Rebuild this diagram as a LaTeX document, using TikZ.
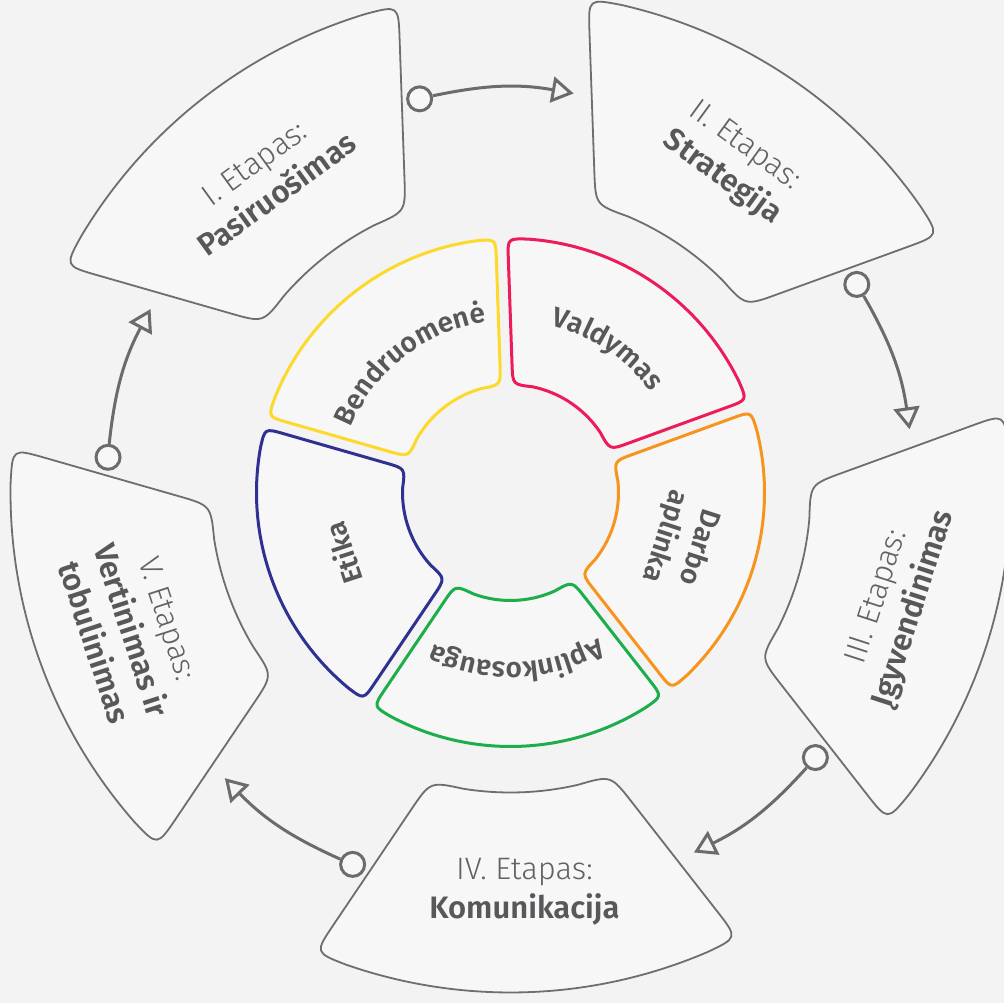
\documentclass[tikz,border=0pt]{standalone}
\usepackage{fontspec}
\setmainfont{Fira Sans}
\newfontfamily\lightfont{Fira Sans Light}
\newfontfamily\semifont{Fira Sans SemiBold}
\usetikzlibrary{arrows.meta,decorations.text,calc}
\definecolor{bg}{HTML}{F3F3F3}
\definecolor{shapefill}{HTML}{F7F7F7}
\definecolor{outline}{HTML}{6E6E70}
\definecolor{conncol}{HTML}{6B6B6D}
\definecolor{txtlight}{HTML}{626264}
\definecolor{txtbold}{HTML}{58585A}
\definecolor{cyellow}{HTML}{FCD92A}
\definecolor{cred}{HTML}{EC1C5A}
\definecolor{corange}{HTML}{F7941D}
\definecolor{cgreen}{HTML}{1BAE4B}
\definecolor{cnavy}{HTML}{2E3192}
% #1 angle, #2 inner radius, #3 outer radius, #4 half gap, #5 corner size, #6 style
\newcommand{\ringsector}[6]{%
  \pgfmathsetmacro{\secAo}{#1+36-asin(#4/#3)}%
  \pgfmathsetmacro{\secAt}{#1-36+asin(#4/#3)}%
  \pgfmathsetmacro{\secBo}{#1+36-asin(#4/#2)}%
  \pgfmathsetmacro{\secBt}{#1-36+asin(#4/#2)}%
  \pgfmathsetmacro{\secdR}{#5/#3*180/pi}%
  \pgfmathsetmacro{\secdr}{#5/#2*180/pi}%
  \pgfmathsetmacro{\secAtp}{\secAt+\secdR}%
  \pgfmathsetmacro{\secAom}{\secAo-\secdR}%
  \pgfmathsetmacro{\secBom}{\secBo-\secdr}%
  \pgfmathsetmacro{\secBtp}{\secBt+\secdr}%
  \coordinate (qAo) at (\secAo:#3pt);
  \coordinate (qAt) at (\secAt:#3pt);
  \coordinate (qBo) at (\secBo:#2pt);
  \coordinate (qBt) at (\secBt:#2pt);
  \coordinate (qS) at ($(qBt)!#5pt!(qAt)$);
  \draw[#6] (qS) -- ($(qAt)!#5pt!(qBt)$) .. controls (qAt) .. (\secAtp:#3pt)
    arc[start angle=\secAtp, end angle=\secAom, radius=#3pt]
    .. controls (qAo) .. ($(qAo)!#5pt!(qBo)$) -- ($(qBo)!#5pt!(qAo)$)
    .. controls (qBo) .. (\secBom:#2pt)
    arc[start angle=\secBom, end angle=\secBtp, radius=#2pt]
    .. controls (qBt) .. (qS) -- cycle;
}
\begin{document}
\begin{tikzpicture}[x=1pt,y=1pt,
  outerbox/.style={draw=outline, line width=1.8pt, fill=shapefill, line join=round},
  innerbox/.style={line width=3pt, fill=shapefill, line join=round},
  stagetext/.style={align=center, inner sep=0pt, font=\fontsize{31}{39}\selectfont},
  innertext/.style={align=center, inner sep=0pt, text=txtbold, font=\semifont\fontsize{28}{36}\selectfont},
  curvedtext/.style={decorate, decoration={text along path, text align=center, text color=txtbold, text={|\semifont\fontsize{28}{28}\selectfont|#1}}},
  dotnode/.style={circle, draw=conncol, line width=3pt, fill=shapefill, minimum size=24pt, inner sep=0pt},
  conn/.style={draw=conncol, line width=3pt, -{Triangle[open, length=22pt, width=26pt]}}
]
\useasboundingbox (-510.5,-510.5) rectangle (493.5,492.5);
\fill[bg] (-510.5,-510.5) rectangle (493.5,492.5);

% outer stages
\ringsector{128}{300}{500}{95}{34}{outerbox}
\ringsector{56}{300}{500}{95}{34}{outerbox}
\ringsector{-16}{300}{500}{95}{34}{outerbox}
\ringsector{-88}{300}{500}{95}{34}{outerbox}
\ringsector{-160}{300}{500}{95}{34}{outerbox}

% inner ring
\ringsector{128}{108}{254}{6}{20}{innerbox, draw=cyellow}
\ringsector{56}{108}{254}{6}{20}{innerbox, draw=cred}
\ringsector{-16}{108}{254}{6}{20}{innerbox, draw=corange}
\ringsector{-88}{108}{254}{6}{20}{innerbox, draw=cgreen}
\ringsector{-160}{108}{254}{6}{20}{innerbox, draw=cnavy}

% stage labels
\node[stagetext, rotate=36] (s1) at (128:398pt) {{\lightfont\color{txtlight}I. Etapas:}\\{\semifont\color{txtbold}Pasiruošimas}};
\node[stagetext, rotate=-36] (s2) at (56:398pt) {{\lightfont\color{txtlight}II. Etapas:}\\{\semifont\color{txtbold}Strategija}};
\node[stagetext, rotate=72] (s3) at (-16:402pt) {{\lightfont\color{txtlight}III. Etapas:}\\{\semifont\color{txtbold}Įgyvendinimas}};
\node[stagetext] (s4) at (-88:400pt) {{\lightfont\color{txtlight}IV. Etapas:}\\{\semifont\color{txtbold}Komunikacija}};
\node[stagetext, rotate=-72] (s5) at (-160:404pt) {{\lightfont\color{txtlight}V. Etapas:}\\{\semifont\color{txtbold}Vertinimas ir}\\{\semifont\color{txtbold}tobulinimas}};

% inner labels
\path[curvedtext=Bendruomenė] (178:172pt) arc[start angle=178, end angle=78, radius=172pt];
\path[curvedtext=Valdymas] (106:172pt) arc[start angle=106, end angle=6, radius=172pt];
\path[curvedtext=Aplinkosauga] (-38:170pt) arc[start angle=-38, end angle=-138, radius=170pt];
\node[innertext, rotate=-108] (darbo) at (-16:178pt) {Darbo\\aplinka};
\node[innertext, rotate=108] (etika) at (-160:178pt) {Etika};

% connectors
\node[dotnode] (c1) at (103:404pt) {};
\coordinate (t1) at (81:404pt);
\node[dotnode] (c2) at (31:404pt) {};
\coordinate (t2) at (9:404pt);
\node[dotnode] (c3) at (-41:404pt) {};
\coordinate (t3) at (-63:404pt);
\node[dotnode] (c4) at (-113:404pt) {};
\coordinate (t4) at (-135:404pt);
\node[dotnode] (c5) at (175:404pt) {};
\coordinate (t5) at (153:404pt);
\draw[conn] (c1) to[bend left=11] (t1);
\draw[conn] (c2) to[bend left=11] (t2);
\draw[conn] (c3) to[bend left=11] (t3);
\draw[conn] (c4) to[bend left=11] (t4);
\draw[conn] (c5) to[bend left=11] (t5);
\end{tikzpicture}
\end{document}
